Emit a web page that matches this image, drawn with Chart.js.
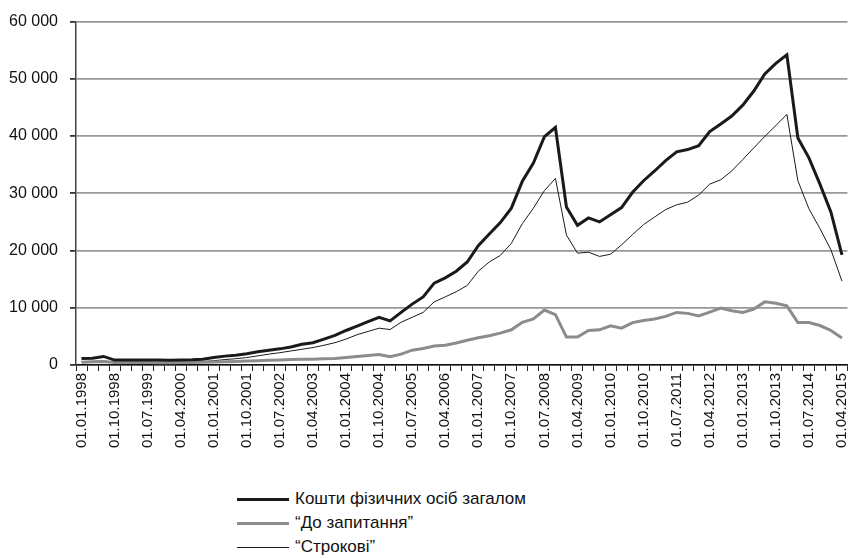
<!DOCTYPE html>
<html>
<head>
<meta charset="utf-8">
<script src="https://cdn.jsdelivr.net/npm/chart.js@4/dist/chart.umd.min.js"></script>
<style>
  html, body { margin: 0; padding: 0; background: #fff; }
  #wrap { position: relative; width: 862px; height: 558px; }
  #grafico { position: absolute; left: 0; top: 0; }
  #legenda { position: absolute; left: 237px; top: 487px; font-family: "Liberation Sans", Arial, sans-serif; font-size: 17px; color: #111; }
  .item { height: 24px; display: flex; align-items: center; }
  .amostra { width: 52px; margin-right: 6px; }
</style>
</head>
<body>
<div id="wrap">
  <canvas id="grafico" width="862" height="460"></canvas>
  <div id="legenda"></div>
</div>
<script>
// квартали 01.01.1998 ... 01.04.2015
const datas = [];
for (let ano = 1998; ano <= 2015; ano++) {
  for (const mes of ['01', '04', '07', '10']) {
    if (ano === 2015 && (mes === '07' || mes === '10')) continue;
    datas.push('01.' + mes + '.' + ano);
  }
}

// Кошти фізичних осіб загалом
const zagalom = [1150, 1200, 1500, 860, 860, 860, 880, 860, 820, 860, 900, 1000, 1300, 1550, 1720, 1950, 2300, 2590, 2820, 3160,
  3620, 3900, 4530, 5170, 6030, 6780, 7590, 8330, 7700, 9190, 10640, 11900, 14300, 15230, 16380, 18000, 20860, 22900, 24880, 27400,
  32100, 35300, 39900, 41500, 27600, 24400, 25700, 25000, 26250, 27500, 30170, 32200, 33900, 35700, 37240, 37640, 38330, 40800, 42120, 43500,
  45400, 47870, 50860, 52700, 54200, 39650, 36200, 31600, 26700, 19250];

// "До запитання"
const doZapytannia = [500, 550, 600, 420, 420, 420, 420, 410, 400, 420, 450, 480, 520, 560, 620, 680, 750, 820, 880, 950,
  1020, 1000, 1090, 1150, 1320, 1490, 1670, 1840, 1440, 1900, 2590, 2870, 3330, 3450, 3850, 4310, 4770, 5100, 5570, 6150,
  7470, 8050, 9600, 8790, 4880, 4880, 6030, 6150, 6840, 6430, 7410, 7760, 8050, 8500, 9190, 9020, 8560, 9250, 9940, 9480,
  9190, 9770, 11030, 10800, 10340, 7410, 7410, 6900, 6030, 4710];

// "Строкові"
const strokovi = [600, 620, 700, 450, 450, 450, 470, 460, 440, 470, 500, 600, 750, 950, 1100, 1300, 1600, 1900, 2150, 2450,
  2750, 3050, 3450, 3900, 4530, 5290, 5860, 6430, 6200, 7470, 8330, 9190, 11030, 11900, 12800, 13900, 16380, 18000, 19140, 21260,
  24700, 27400, 30460, 32600, 22700, 19540, 19710, 18970, 19360, 20980, 22800, 24530, 25860, 27150, 27990, 28450, 29700, 31600, 32360, 33900,
  35900, 37930, 39950, 41840, 43800, 32190, 27300, 23850, 20120, 14650];

const yTicks = [0, 10000, 20000, 30000, 40000, 50000, 60000];

const series = [
  { label: 'Кошти фізичних осіб загалом', data: zagalom, cor: '#1a1a1a', largura: 3 },
  { label: '“До запитання”', data: doZapytannia, cor: '#8c8c8c', largura: 3 },
  { label: '“Строкові”', data: strokovi, cor: '#1a1a1a', largura: 1 }
];

const fonte = '"Liberation Sans", Arial, sans-serif';

const ctx = document.getElementById('grafico').getContext('2d');
const grafico = new Chart(ctx, {
  type: 'line',
  data: {
    labels: datas,
    datasets: series.map(s => ({
      label: s.label,
      data: s.data,
      borderColor: s.cor,
      borderWidth: s.largura,
      pointRadius: 0,
      tension: 0,
      fill: false
    }))
  },
  options: {
    responsive: false,
    animation: false,
    layout: { padding: { top: 17, right: 4, left: 0, bottom: 0 } },
    plugins: { legend: { display: false }, tooltip: { enabled: false } },
    scales: {
      x: {
        offset: true,
        afterFit: (scale) => { scale.height = 95; },
        grid: { offset: true, drawOnChartArea: false, drawTicks: true, tickLength: 6, color: '#222', lineWidth: 1 },
        border: { color: '#111', width: 1.5 },
        ticks: {
          autoSkip: false,
          minRotation: 90,
          maxRotation: 90,
          padding: 2,
          color: '#111',
          font: { family: fonte, size: 15 },
          callback: (v, i) => (i % 3 === 0 ? datas[i] : '')
        }
      },
      y: {
        min: 0,
        max: 60000,
        afterFit: (scale) => { scale.width = 76; },
        afterBuildTicks: (scale) => { scale.ticks = yTicks.map(v => ({ value: v })); },
        grid: { color: '#999', lineWidth: 1.8, tickLength: 6, tickColor: '#333' },
        border: { color: '#444', width: 1.5 },
        ticks: {
          padding: 12,
          color: '#111',
          font: { family: fonte, size: 16 },
          callback: (v) => String(v).replace(/\B(?=(\d{3})+(?!\d))/g, ' ')
        }
      }
    }
  }
});

// ЛЕГЕНДА
const legenda = document.getElementById('legenda');
series.forEach(s => {
  const item = document.createElement('div');
  item.className = 'item';
  const amostra = document.createElement('span');
  amostra.className = 'amostra';
  amostra.style.borderTop = s.largura + 'px solid ' + s.cor;
  const texto = document.createElement('span');
  texto.innerText = s.label;
  item.appendChild(amostra);
  item.appendChild(texto);
  legenda.appendChild(item);
});
</script>
</body>
</html>
